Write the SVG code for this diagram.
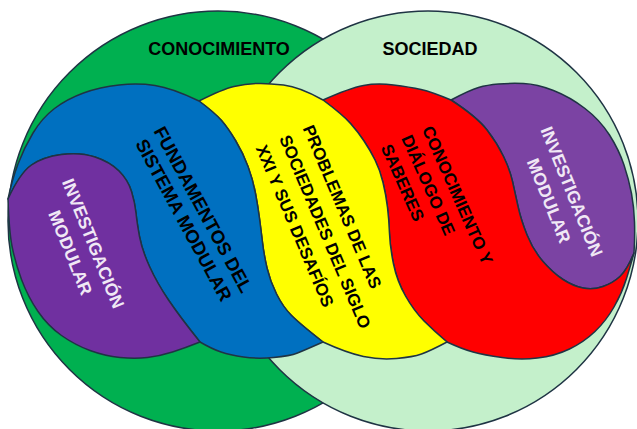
<svg xmlns="http://www.w3.org/2000/svg" width="637" height="429" viewBox="0 0 637 429">
<style>
.sh{stroke:#1f3444;stroke-width:1.5;stroke-linejoin:round}
.t{font-family:"Liberation Sans",Arial,sans-serif;font-weight:bold;fill:#000}
.w{fill:#f0e8f5}
</style>
<rect width="637" height="429" fill="#fff"/>
<g id="conocimiento">
<circle class="sh" cx="218" cy="221" r="210" fill="#00b050"/>
</g>
<g id="sociedad">
<circle class="sh" cx="428" cy="221" r="210" fill="#c4f0cb"/>
</g>
<g id="investigacion-der">
<path class="sh" fill="#7b43a3" d="M451,100 Q470,90 478.5,87.5 Q487,85 498.5,84 Q510,83 523.5,83.5 Q537,84 553.5,90.5 Q570,97 585,108.5 Q600,120 609.5,135 Q619,150 624,165 Q629,180 631.5,193.5 Q634,207 634.5,222 Q635,237 634,253 Q627,270 620,276.5 Q613,283 603,286.5 Q593,290 583,288 Q573,286 563,279.5 Q553,273 543,261.5 Q533,250 527,235 Q521,220 518,206.5 Q515,193 512.5,181.5 Q510,170 503.5,156.5 Q497,143 487,130 Q477,117 451,100 Z"/>
<g transform="translate(560.5,196.1) rotate(68)">
<text class="t w" font-size="17.5" text-anchor="middle" x="0" y="-6">INVESTIGACIÓN</text>
<text class="t w" font-size="17.5" text-anchor="middle" x="0" y="18.5">MODULAR</text>
</g>
</g>
<g id="dialogo">
<path class="sh" fill="#ff0000" d="M323,100 Q350,88 363.5,85.5 Q377,83 393.5,85 Q410,87 421,89.5 Q432,92 451,100 Q477,117 487,130 Q497,143 503.5,156.5 Q510,170 512.5,181.5 Q515,193 518,206.5 Q521,220 527,235 Q533,250 543,261.5 Q553,273 563,279.5 Q573,286 583,288 Q593,290 603,286.5 Q613,283 620,276.5 Q627,270 634,253 Q631,264 626.5,278.5 Q622,293 614,307 Q606,321 595,331.5 Q584,342 569.5,349 Q555,356 537.5,358 Q520,360 502,357.5 Q484,355 473,352 Q462,349 447,342 Q434,331 424,321 Q414,311 405.5,296 Q397,281 393.5,264 Q390,247 389.5,233.5 Q389,220 387.5,207.5 Q386,195 383,182.5 Q380,170 375,160 Q370,150 364,141 Q358,132 350.5,123.5 Q343,115 323,100 Z"/>
<g transform="translate(406.6,135.9) rotate(66)">
<text class="t" font-size="17" x="0" y="-16.5">CONOCIMIENTO Y</text>
<text class="t" font-size="17" x="0" y="6">DIÁLOGO DE</text>
<text class="t" font-size="17" x="0" y="28.5">SABERES</text>
</g>
</g>
<g id="problemas">
<path class="sh" fill="#ffff00" d="M199,101 Q223,89 234,86.5 Q245,84 256,83.5 Q267,83 283.5,85 Q300,87 323,100 Q343,115 350.5,123.5 Q358,132 364,141 Q370,150 375,160 Q380,170 383,182.5 Q386,195 387.5,207.5 Q389,220 389.5,233.5 Q390,247 393.5,264 Q397,281 405.5,296 Q414,311 424,321 Q434,331 447,342 Q430,351 421.5,354 Q413,357 396.5,358.5 Q380,360 363.5,356.5 Q347,353 323,342 Q300,324 291.5,315.5 Q283,307 276.5,294 Q270,281 267,268 Q264,255 262.5,242.5 Q261,230 259.5,218.5 Q258,207 255.5,193.5 Q253,180 248,166.5 Q243,153 235.5,140.5 Q228,128 221.5,120.5 Q215,113 199,101 Z"/>
<g transform="translate(284.5,135.8) rotate(67)">
<text class="t" font-size="17" x="0" y="-19.5">PROBLEMAS DE LAS</text>
<text class="t" font-size="17" x="0" y="6">SOCIEDADES DEL SIGLO</text>
<text class="t" font-size="17" x="0" y="31.5">XXI Y SUS DESAFÍOS</text>
</g>
</g>
<g id="fundamentos">
<path class="sh" fill="#0070c0" d="M8,199 Q12,180 18,164 Q24,148 33,133 Q42,118 54.5,108.5 Q67,99 83.5,93 Q100,87 119,85 Q138,83 155,85.5 Q172,88 199,101 Q215,113 221.5,120.5 Q228,128 235.5,140.5 Q243,153 248,166.5 Q253,180 255.5,193.5 Q258,207 259.5,218.5 Q261,230 262.5,242.5 Q264,255 267,268 Q270,281 276.5,294 Q283,307 291.5,315.5 Q300,324 323,342 Q305,350 297.5,353 Q290,356 273.5,357.5 Q257,359 243.5,357 Q230,355 221,352 Q212,349 200,342 Q180,317 168.5,300 Q157,283 149.5,266.5 Q142,250 139.5,236.5 Q137,223 136,213 Q135,203 131.5,191.5 Q128,180 119,171 Q110,162 95,157 Q80,152 61.5,154.5 Q43,157 31.5,165 Q20,173 8,199 Z"/>
<g transform="translate(193.5,214.75) rotate(61.5)">
<text class="t" font-size="18.5" text-anchor="middle" x="0" y="-4.5">FUNDAMENTOS DEL</text>
<text class="t" font-size="18.5" text-anchor="middle" x="0" y="17.5">SISTEMA MODULAR</text>
</g>
</g>
<g id="investigacion-izq">
<path class="sh" fill="#7030a0" d="M8,199 Q20,173 31.5,165 Q43,157 61.5,154.5 Q80,152 95,157 Q110,162 119,171 Q128,180 131.5,191.5 Q135,203 136,213 Q137,223 139.5,236.5 Q142,250 149.5,266.5 Q157,283 168.5,300 Q180,317 200,342 Q185,348 172.5,352 Q160,356 147.5,357.5 Q135,359 120,357.5 Q105,356 90,350.5 Q75,345 61.5,335.5 Q48,326 38,311.5 Q28,297 21.5,279.5 Q15,262 12,246 Q9,230 8,199 Z"/>
<g transform="translate(82,248) rotate(68)">
<text class="t w" font-size="17.5" text-anchor="middle" x="0" y="-6">INVESTIGACIÓN</text>
<text class="t w" font-size="17.5" text-anchor="middle" x="0" y="18.5">MODULAR</text>
</g>
</g>
<g id="connectors"></g>
<g id="titulos">
<text class="t" font-size="18" text-anchor="middle" x="219" y="55">CONOCIMIENTO</text>
<text class="t" font-size="18" text-anchor="middle" x="430" y="55">SOCIEDAD</text>
</g>
</svg>
